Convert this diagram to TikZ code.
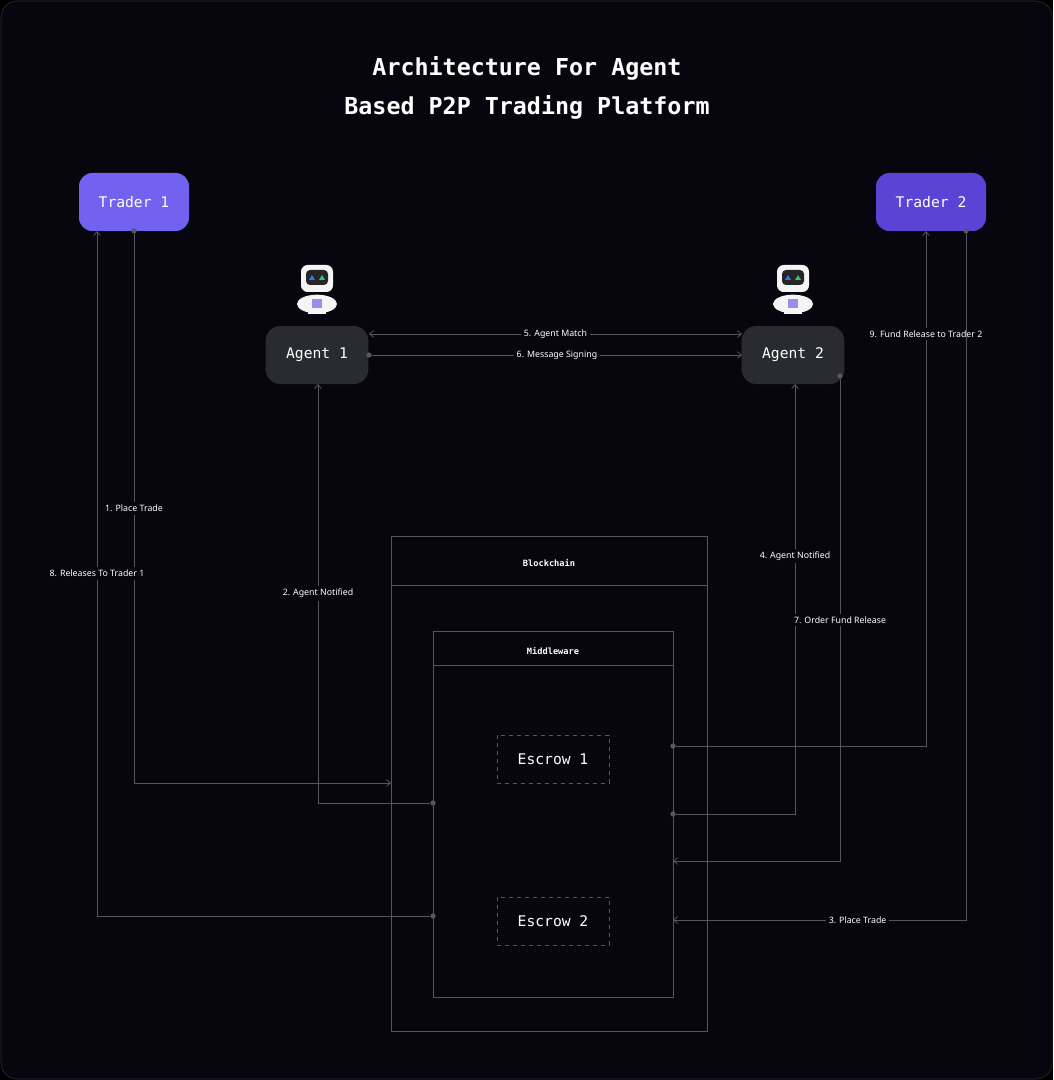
\documentclass[tikz,border=0pt]{standalone}
\usepackage{fontspec}
\setmainfont{Noto Sans}
\newfontfamily\monofont{DejaVu Sans Mono}
\usetikzlibrary{positioning,arrows.meta}
\definecolor{bgdark}{HTML}{07060F}
\definecolor{framegray}{HTML}{2E2D36}
\definecolor{linegray}{HTML}{55565E}
\definecolor{agentfill}{HTML}{2A2B2E}
\definecolor{traderA}{HTML}{7262F0}
\definecolor{traderB}{HTML}{5B43D6}
\definecolor{eyeblue}{HTML}{2F7BEA}
\definecolor{eyegreen}{HTML}{2FC47A}
\definecolor{badge}{HTML}{9C8CF0}

\begin{document}
\begin{tikzpicture}[
x=0.75pt,y=-0.75pt,
trader/.style={
  rounded corners=10pt,
  minimum width=82.5pt,
  minimum height=43.5pt,
  text=white,
  font=\monofont\fontsize{11}{13}\selectfont
},
agent/.style={
  fill=agentfill,
  rounded corners=11pt,
  minimum width=77pt,
  minimum height=43.5pt,
  text=white,
  font=\monofont\fontsize{11}{13}\selectfont
},
escrow/.style={
  draw=linegray,
  dashed,
  minimum width=84pt,
  minimum height=36pt,
  text=white,
  font=\monofont\fontsize{11}{13}\selectfont
},
panel/.style={
  draw=linegray,
  line width=0.6pt
},
head/.style={
  text=white,
  font=\monofont\bfseries\fontsize{6.5}{8}\selectfont
},
link/.style={
  draw=linegray,
  line width=0.6pt,
  -{Straight Barb[length=3pt,width=5pt]}
},
both/.style={
  link,
  {Straight Barb[length=3pt,width=5pt]}-{Straight Barb[length=3pt,width=5pt]}
},
lab/.style={
  fill=bgdark,
  text=white,
  inner sep=2pt,
  font=\fontsize{6.6}{8}\selectfont
},
dot/.style={
  circle,
  fill=linegray,
  inner sep=0pt,
  minimum size=4pt
}
]
% background
\fill[black] (0,0) rectangle (1053,1080);
\fill[bgdark,draw=framegray,rounded corners=12pt] (1,1) rectangle (1052,1079);
\useasboundingbox (0,0) rectangle (1053,1080);

% title
\node[text=white,align=center,font=\monofont\bfseries\fontsize{17.5}{29}\selectfont]
  (title) at (527,88) {Architecture For Agent\\Based P2P Trading Platform};

% traders and agents
\node[trader,fill=traderA] (t1) at (134,202) {Trader 1};
\node[trader,fill=traderB] (t2) at (931,202) {Trader 2};
\node[agent] (a1) at (317,355) {Agent 1};
\node[agent] (a2) at (793,355) {Agent 2};

% robot icons
\foreach \rx/\nm in {317/r1,793/r2}{
  \fill[white!92!gray,rounded corners=5pt] (\rx-16,265) rectangle (\rx+16,292);
  \fill[black!85,rounded corners=3pt] (\rx-11,270) rectangle (\rx+11,285);
  \fill[eyeblue] (\rx-8,280) -- (\rx-5,275) -- (\rx-2,280) -- cycle;
  \fill[eyegreen] (\rx+2,280) -- (\rx+5,275) -- (\rx+8,280) -- cycle;
  \fill[white!92!gray] (\rx,304) ellipse (15pt and 7pt);
  \fill[white!92!gray] (\rx-9,300) rectangle (\rx+9,314);
  \fill[badge] (\rx-5,299) rectangle (\rx+5,308);
  \coordinate (\nm) at (\rx,290);
}

% blockchain and middleware
\draw[panel] (391,536) rectangle (707,1031);
\draw[panel] (391,585) -- (707,585);
\node[head] (bc) at (549,563) {Blockchain};
\draw[panel] (433,631) rectangle (673,997);
\draw[panel] (433,665) -- (673,665);
\node[head] (mw) at (553,651) {Middleware};
\node[escrow] (e1) at (553,759) {Escrow 1};
\node[escrow] (e2) at (553,921) {Escrow 2};

% anchor points on the panels
\coordinate (bcin) at (391,783);
\node[dot] (mw8) at (433,916) {};
\node[dot] (mw2) at (433,803) {};
\node[dot] (mw4) at (673,814) {};
\node[dot] (mw9) at (673,746) {};
\coordinate (mw7) at (673,861);
\coordinate (mw3) at (673,920);
\node[dot] (t1o) at (134,231) {};
\node[dot] (t2o) at (966,231) {};
\node[dot] (a1o) at (369,355) {};
\node[dot] (a2o) at (840,376) {};

% connectors
\draw[link] (t1o) -- node[lab,pos=0.5] {1. Place Trade} (134,783) -- (bcin);
\draw[link] (mw8) -- (97,916) -- node[lab,pos=0.5] {8. Releases To Trader 1} (97,231);
\draw[link] (mw2) -- (318,803) -- node[lab,pos=0.5] {2. Agent Notified} (318,384);
\draw[both] (369,334) -- node[lab] {5. Agent Match} (742,334);
\draw[link] (a1o) -- node[lab] {6. Message Signing} (742,355);
\draw[link] (mw4) -- (795,814) -- node[lab,pos=0.6] {4. Agent Notified} (795,384);
\draw[link] (a2o) -- node[lab,pos=0.5] {7. Order Fund Release} (840,861) -- (mw7);
\draw[link] (mw9) -- (926,746) -- node[lab,pos=0.80] {9. Fund Release to Trader 2} (926,231);
\draw[link] (t2o) -- (966,920) -- node[lab,pos=0.37] {3. Place Trade} (mw3);
\end{tikzpicture}
\end{document}
